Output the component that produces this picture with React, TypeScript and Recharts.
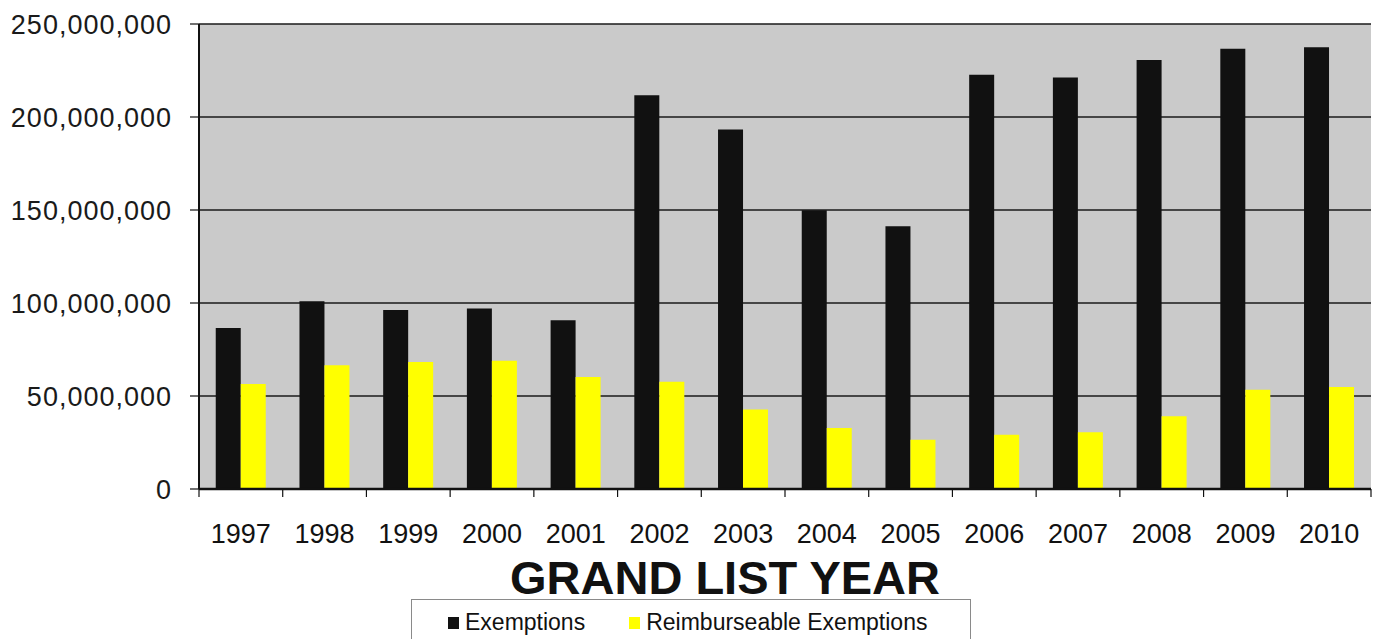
import { BarChart, Bar, XAxis, YAxis, CartesianGrid } from "recharts";

const years = ["1997", "1998", "1999", "2000", "2001", "2002", "2003", "2004", "2005", "2006", "2007", "2008", "2009", "2010"];
const exemptions = [86600000, 100900000, 96300000, 97000000, 90700000, 211700000, 193300000, 149900000, 141300000, 222700000, 221300000, 230600000, 236700000, 237500000];
const reimburseable = [56500000, 66500000, 68300000, 69000000, 60200000, 57600000, 42700000, 32800000, 26500000, 29200000, 30500000, 39100000, 53400000, 54900000];
const yTicks = [0, 50000000, 100000000, 150000000, 200000000, 250000000];

const series = [
    { key: "exemptions", name: "Exemptions", color: "#111111" },
    { key: "reimburseable", name: "Reimburseable Exemptions", color: "#ffff00" },
];

const data = years.map((year, i) => ({
    year,
    exemptions: exemptions[i],
    reimburseable: reimburseable[i],
}));

const font = '"Liberation Sans", Arial, sans-serif';
const plotLeft = 199;
const plotRight = 1371;
const band = (plotRight - plotLeft) / years.length;

// year label plus Excel-style tick marks between categories
function YearTick(props: any) {
    const { x, y, payload, index } = props;
    const left = x - band / 2;
    return (
        <g>
            <line x1={left} y1={y - 7} x2={left} y2={y + 1} stroke="#111" strokeWidth={1.2} />
            {index === years.length - 1 && (
                <line x1={x + band / 2} y1={y - 7} x2={x + band / 2} y2={y + 1} stroke="#111" strokeWidth={1.2} />
            )}
            <text x={x} y={y + 47} textAnchor="middle" fill="#111" fontSize={27} fontFamily={font}>
                {payload.value}
            </text>
        </g>
    );
}

export default function App() {
    return (
        <div style={{ position: "fixed", left: 0, top: 0, width: 1385, height: 639, background: "#fff" }}>
            <BarChart
                width={1385}
                height={639}
                data={data}
                margin={{ top: 24, right: 14, left: 0, bottom: 100 }}
                barCategoryGap="20%"
                barGap={0}
            >
                <CartesianGrid vertical={false} fill="#cacaca" stroke="#1a1a1a" strokeWidth={1.3} />
                <XAxis
                    dataKey="year"
                    height={50}
                    tickLine={false}
                    tickSize={7}
                    tickMargin={0}
                    axisLine={{ stroke: "#111", strokeWidth: 2.5 }}
                    tick={<YearTick />}
                    interval={0}
                />
                <YAxis
                    width={199}
                    domain={[0, 250000000]}
                    ticks={yTicks}
                    tickSize={9}
                    tickMargin={18}
                    axisLine={{ stroke: "#111", strokeWidth: 2 }}
                    tickLine={{ stroke: "#111", strokeWidth: 1.2 }}
                    tick={{ fill: "#1a1a1a", fontSize: 27, fontFamily: font, letterSpacing: 1 }}
                    tickFormatter={(v: number) => v.toLocaleString("en-US")}
                />
                <YAxis
                    yAxisId="frame"
                    orientation="right"
                    width={0}
                    tick={false}
                    tickLine={false}
                    axisLine={{ stroke: "#777", strokeWidth: 1.5 }}
                />
                {series.map((s) => (
                    <Bar key={s.key} dataKey={s.key} name={s.name} fill={s.color} isAnimationActive={false} />
                ))}
            </BarChart>

            {/* axis title */}
            <div
                style={{
                    position: "absolute",
                    left: 425,
                    width: 600,
                    top: 554,
                    textAlign: "center",
                    fontFamily: font,
                    fontWeight: "bold",
                    fontSize: 47,
                    lineHeight: 1,
                    color: "#111",
                }}
            >
                GRAND LIST YEAR
            </div>

            {/* Legend */}
            <div
                style={{
                    position: "absolute",
                    left: 411,
                    top: 599,
                    width: 560,
                    height: 60,
                    border: "1px solid #8a8a8a",
                    background: "#fff",
                    boxSizing: "border-box",
                    display: "flex",
                    alignItems: "flex-start",
                    paddingTop: 9,
                    paddingLeft: 36,
                    gap: 44,
                    fontFamily: font,
                    fontSize: 23,
                    color: "#111",
                }}
            >
                {series.map((s) => (
                    <div key={s.key} style={{ display: "flex", alignItems: "center", gap: 6 }}>
                        <div style={{ width: 11, height: 12, backgroundColor: s.color }} />
                        <span>{s.name}</span>
                    </div>
                ))}
            </div>
        </div>
    );
}
